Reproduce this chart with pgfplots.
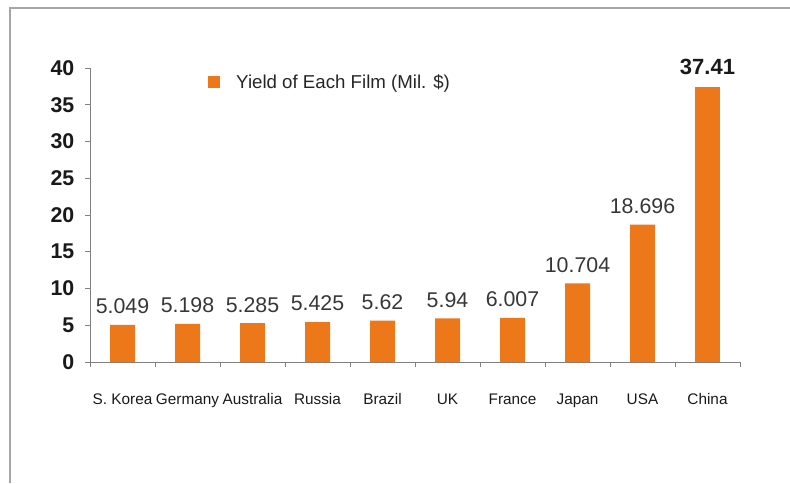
\documentclass[border=0pt]{standalone}
\usepackage{fontspec}
\setmainfont{Liberation Sans}
\usepackage{pgfplots}
\pgfplotsset{compat=1.18}
\definecolor{barorange}{RGB}{237,120,26}
\definecolor{axisgray}{RGB}{128,128,128}
\definecolor{labelgray}{RGB}{55,55,55}

\begin{document}
\begin{tikzpicture}
\useasboundingbox (0,0) rectangle (592.5pt,362.25pt);
% frame of the chart area
\draw[line width=1.5pt, gray!70] (7.5pt,0) -- (7.5pt,356.25pt) -- (592.5pt,356.25pt);
\begin{axis}[
    at={(67.5pt,90.75pt)}, anchor=south west,
    scale only axis, width=487.5pt, height=220.5pt,
    ybar, bar width=18.75pt, bar shift=0pt,
    xmin=-0.5, xmax=9.5, ymin=0, ymax=40,
    axis lines=left,
    axis line style={-, axisgray, line width=0.75pt},
    xtick={-0.5,0.5,...,9.5},
    x tick label as interval,
    xticklabels={S. Korea, Germany, Australia, Russia, Brazil, UK, France, Japan, USA, China},
    ytick={0,5,...,40},
    tick align=outside,
    major tick length=3.75pt,
    tick style={axisgray, line width=0.75pt},
    /pgf/number format/assume math mode=true,
    yticklabel style={font=\fontsize{16}{16}\selectfont\bfseries, text=black!90, xshift=-4.5pt},
    xticklabel style={font=\fontsize{11.5}{11.5}\selectfont, text=black!90, yshift=-17pt,
        text height=0.75em, text depth=0.22em},
    nodes near coords,
    point meta=explicit symbolic,
    every node near coord/.append style={font=\fontsize{16}{16}\selectfont, text=labelgray, anchor=south, inner sep=0pt, yshift=8pt},
    legend style={draw=none, fill=none, at={(0.1815,0.952)}, anchor=west,
        font=\fontsize{14}{14}\selectfont, text=black!85, inner sep=0pt},
    legend image code/.code={\fill[barorange] (0pt,-4.5pt) rectangle (9pt,4.5pt); \path (19pt,0pt);},
]
\addplot[fill=barorange, draw=none, bar shift=0pt] coordinates {
    (0,5.049)  [5.049]
    (1,5.198)  [5.198]
    (2,5.285)  [5.285]
    (3,5.425)  [5.425]
    (4,5.62)   [5.62]
    (5,5.94)   [5.94]
    (6,6.007)  [6.007]
    (7,10.704) [10.704]
    (8,18.696) [18.696]
};
\addlegendentry{Yield of Each Film (Mil. \$)}
% China, labelled in bold
\addplot[fill=barorange, draw=none, bar shift=0pt, forget plot,
    every node near coord/.append style={font=\fontsize{16.5}{16.5}\selectfont\bfseries, text=black!90, yshift=1pt}]
    coordinates {(9,37.41) [37.41]};
\end{axis}
\end{tikzpicture}
\end{document}
